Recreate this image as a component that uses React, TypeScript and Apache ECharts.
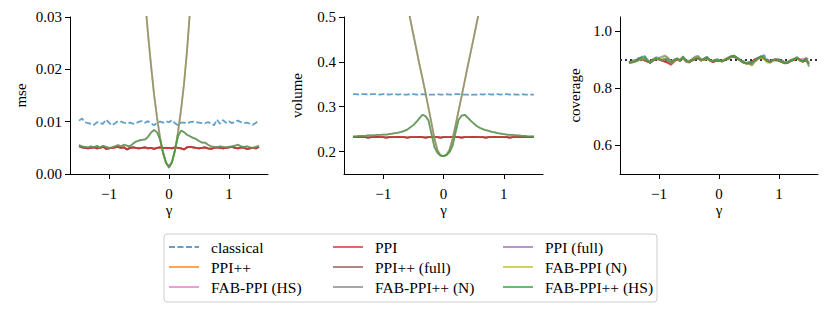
import React, { useEffect, useRef } from "react";
import * as echarts from "echarts";

const gamma = [
  -1.5, -1.45, -1.4, -1.35, -1.3, -1.25, -1.2, -1.15, -1.1, -1.05,
  -1.0, -0.95, -0.9, -0.85, -0.8, -0.75, -0.7, -0.65, -0.6, -0.55,
  -0.5, -0.45, -0.4, -0.35, -0.3, -0.25, -0.2, -0.15, -0.1, -0.05,
  0, 0.05, 0.1, 0.15, 0.2, 0.25, 0.3, 0.35, 0.4, 0.45,
  0.5, 0.55, 0.6, 0.65, 0.7, 0.75, 0.8, 0.85, 0.9, 0.95,
  1.0, 1.05, 1.1, 1.15, 1.2, 1.25, 1.3, 1.35, 1.4, 1.45,
  1.5,
];

const xTicks = [-1, 0, 1];
const mseTicks = [0, 0.01, 0.02, 0.03];
const volTicks = [0.2, 0.3, 0.4, 0.5];
const covTicks = [0.6, 0.8, 1.0];

// ---- mse ----
const mseClassical = [
  0.0102, 0.0106, 0.0099, 0.0097, 0.0096, 0.0094, 0.0099, 0.0097, 0.0096, 0.0104,
  0.0098, 0.0093, 0.0097, 0.0101, 0.0100, 0.0098, 0.0097, 0.0098, 0.0096, 0.0097,
  0.0100, 0.0101, 0.0098, 0.0101, 0.0097, 0.0093, 0.0098, 0.0100, 0.0098, 0.0101,
  0.0099, 0.0103, 0.0097, 0.0093, 0.0098, 0.0098, 0.0097, 0.0099, 0.0100, 0.0099,
  0.0098, 0.0097, 0.0097, 0.0099, 0.0097, 0.0093, 0.0104, 0.0096, 0.0103, 0.0098,
  0.0101, 0.0097, 0.0100, 0.0102, 0.0099, 0.0097, 0.0098, 0.0096, 0.0094, 0.0098,
  0.0103,
];
const msePPI = [
  0.0053, 0.0051, 0.0050, 0.0049, 0.0050, 0.0051, 0.0049, 0.0050, 0.0052, 0.0048,
  0.0049, 0.0050, 0.0051, 0.0052, 0.0050, 0.0051, 0.0047, 0.0050, 0.0051, 0.0050,
  0.0049, 0.0050, 0.0051, 0.0049, 0.0050, 0.0048, 0.0050, 0.0051, 0.0050, 0.0050,
  0.0050, 0.0049, 0.0051, 0.0050, 0.0049, 0.0047, 0.0051, 0.0052, 0.0051, 0.0050,
  0.0049, 0.0050, 0.0051, 0.0049, 0.0048, 0.0050, 0.0051, 0.0050, 0.0049, 0.0050,
  0.0051, 0.0052, 0.0050, 0.0049, 0.0051, 0.0050, 0.0048, 0.0049, 0.0050, 0.0049,
  0.0052,
];
const mseHS = [
  0.0055, 0.0053, 0.0052, 0.0051, 0.0053, 0.0051, 0.0054, 0.0050, 0.0054, 0.0052,
  0.0050, 0.0051, 0.0053, 0.0055, 0.0053, 0.0056, 0.0054, 0.0053, 0.0058, 0.0062,
  0.0064, 0.0065, 0.0066, 0.0071, 0.0079, 0.0084, 0.0080, 0.0066, 0.0042, 0.0022,
  0.0012, 0.0023, 0.0046, 0.0072, 0.0083, 0.0080, 0.0075, 0.0072, 0.0069, 0.0067,
  0.0063, 0.0060, 0.0060, 0.0056, 0.0053, 0.0052, 0.0051, 0.0053, 0.0052, 0.0051,
  0.0052, 0.0053, 0.0054, 0.0056, 0.0053, 0.0052, 0.0053, 0.0051, 0.0050, 0.0052,
  0.0054,
];
const mseN = [
  0.4380, 0.4090, 0.3810, 0.3540, 0.3280, 0.3030, 0.2790, 0.2560, 0.2340, 0.2130,
  0.1930, 0.1740, 0.1560, 0.1390, 0.1230, 0.1080, 0.0940, 0.0810, 0.0690, 0.0580,
  0.0480, 0.0400, 0.0335, 0.0268, 0.0208, 0.0153, 0.0108, 0.0070, 0.0040, 0.0021,
  0.0015, 0.0023, 0.0045, 0.0080, 0.0122, 0.0172, 0.0235, 0.0312, 0.0395, 0.0485,
  0.0580, 0.0685, 0.0795, 0.0915, 0.1045, 0.1185, 0.1335, 0.1495, 0.1665, 0.1845,
  0.2035, 0.2235, 0.2445, 0.2665, 0.2895, 0.3135, 0.3385, 0.3645, 0.3915, 0.4195,
  0.4485,
];

// ---- volume ----
const volClassical = [
  0.328, 0.328, 0.327, 0.328, 0.328, 0.327, 0.328, 0.328, 0.328, 0.327,
  0.328, 0.328, 0.327, 0.328, 0.328, 0.327, 0.328, 0.327, 0.327, 0.328,
  0.328, 0.327, 0.327, 0.328, 0.327, 0.327, 0.327, 0.327, 0.328, 0.327,
  0.327, 0.328, 0.327, 0.327, 0.328, 0.328, 0.327, 0.327, 0.327, 0.326,
  0.327, 0.327, 0.328, 0.327, 0.328, 0.328, 0.327, 0.328, 0.328, 0.327,
  0.328, 0.328, 0.327, 0.328, 0.327, 0.327, 0.328, 0.327, 0.327, 0.327,
  0.327,
];
const volPPI = [
  0.232, 0.232, 0.233, 0.232, 0.232, 0.231, 0.232, 0.232, 0.233, 0.232,
  0.232, 0.231, 0.232, 0.232, 0.232, 0.233, 0.232, 0.232, 0.231, 0.232,
  0.232, 0.232, 0.233, 0.232, 0.231, 0.232, 0.232, 0.232, 0.232, 0.231,
  0.232, 0.232, 0.232, 0.233, 0.232, 0.232, 0.231, 0.232, 0.232, 0.232,
  0.233, 0.232, 0.232, 0.232, 0.231, 0.232, 0.232, 0.233, 0.232, 0.232,
  0.232, 0.232, 0.231, 0.232, 0.232, 0.232, 0.233, 0.232, 0.232, 0.232,
  0.232,
];
const volHS = [
  0.234, 0.234, 0.235, 0.235, 0.235, 0.236, 0.236, 0.236, 0.237, 0.237,
  0.238, 0.238, 0.239, 0.240, 0.241, 0.242, 0.244, 0.246, 0.249, 0.254,
  0.259, 0.266, 0.274, 0.282, 0.279, 0.270, 0.240, 0.210, 0.197, 0.191,
  0.190, 0.192, 0.199, 0.213, 0.243, 0.271, 0.280, 0.282, 0.276, 0.269,
  0.263, 0.257, 0.253, 0.250, 0.248, 0.246, 0.244, 0.243, 0.241, 0.240,
  0.239, 0.238, 0.237, 0.237, 0.236, 0.236, 0.235, 0.235, 0.234, 0.234,
  0.234,
];
const volN = [
  1.121, 1.088, 1.055, 1.022, 0.989, 0.956, 0.923, 0.890, 0.857, 0.824,
  0.791, 0.758, 0.725, 0.692, 0.659, 0.626, 0.593, 0.560, 0.527, 0.494,
  0.461, 0.428, 0.395, 0.364, 0.332, 0.298, 0.264, 0.229, 0.203, 0.192,
  0.190, 0.193, 0.204, 0.228, 0.259, 0.291, 0.323, 0.356, 0.389, 0.421,
  0.453, 0.486, 0.519, 0.552, 0.585, 0.618, 0.651, 0.684, 0.717, 0.750,
  0.783, 0.816, 0.849, 0.882, 0.915, 0.948, 0.981, 1.014, 1.047, 1.080,
  1.113,
];

// ---- coverage ----
const covClassical = [
  0.893, 0.897, 0.900, 0.905, 0.909, 0.916, 0.903, 0.888, 0.897, 0.904,
  0.901, 0.896, 0.899, 0.905, 0.893, 0.900, 0.907, 0.897, 0.910, 0.896,
  0.893, 0.900, 0.904, 0.908, 0.898, 0.905, 0.911, 0.897, 0.894, 0.905,
  0.899, 0.893, 0.898, 0.902, 0.906, 0.913, 0.907, 0.901, 0.895, 0.893,
  0.889, 0.884, 0.898, 0.905, 0.911, 0.917, 0.903, 0.895, 0.900, 0.897,
  0.903, 0.899, 0.889, 0.893, 0.898, 0.902, 0.909, 0.896, 0.899, 0.906,
  0.902,
];
const covPPI = [
  0.889, 0.891, 0.895, 0.899, 0.903, 0.901, 0.896, 0.892, 0.899, 0.902,
  0.904, 0.898, 0.893, 0.889, 0.882, 0.893, 0.901, 0.898, 0.905, 0.894,
  0.891, 0.897, 0.901, 0.905, 0.899, 0.902, 0.906, 0.899, 0.893, 0.896,
  0.897, 0.895, 0.899, 0.904, 0.909, 0.911, 0.906, 0.900, 0.893, 0.889,
  0.891, 0.895, 0.901, 0.905, 0.909, 0.903, 0.897, 0.892, 0.899, 0.901,
  0.897, 0.893, 0.887, 0.891, 0.896, 0.899, 0.905, 0.899, 0.894, 0.898,
  0.885,
];
const covPPIpp = [
  0.891, 0.893, 0.897, 0.902, 0.905, 0.899, 0.894, 0.890, 0.897, 0.903,
  0.902, 0.897, 0.895, 0.891, 0.886, 0.895, 0.903, 0.896, 0.907, 0.895,
  0.892, 0.898, 0.903, 0.906, 0.897, 0.903, 0.908, 0.898, 0.892, 0.897,
  0.898, 0.894, 0.900, 0.905, 0.910, 0.912, 0.905, 0.899, 0.892, 0.887,
  0.890, 0.893, 0.902, 0.906, 0.910, 0.904, 0.896, 0.893, 0.900, 0.900,
  0.896, 0.892, 0.888, 0.890, 0.897, 0.900, 0.906, 0.898, 0.893, 0.899,
  0.887,
];
const covFabN = [
  0.888, 0.894, 0.898, 0.896, 0.901, 0.904, 0.899, 0.893, 0.900, 0.906,
  0.905, 0.903, 0.912, 0.908, 0.894, 0.897, 0.902, 0.899, 0.908, 0.897,
  0.894, 0.901, 0.909, 0.912, 0.900, 0.898, 0.903, 0.895, 0.896, 0.901,
  0.897, 0.896, 0.903, 0.907, 0.912, 0.914, 0.906, 0.898, 0.890, 0.887,
  0.885, 0.879, 0.893, 0.902, 0.906, 0.903, 0.890, 0.889, 0.897, 0.902,
  0.899, 0.895, 0.890, 0.893, 0.899, 0.903, 0.907, 0.897, 0.896, 0.902,
  0.889,
];
const covFabppN = [
  0.890, 0.895, 0.893, 0.898, 0.906, 0.902, 0.897, 0.895, 0.903, 0.909,
  0.907, 0.911, 0.915, 0.906, 0.896, 0.899, 0.904, 0.901, 0.912, 0.899,
  0.896, 0.903, 0.911, 0.914, 0.903, 0.900, 0.905, 0.896, 0.898, 0.902,
  0.896, 0.897, 0.902, 0.908, 0.913, 0.915, 0.904, 0.897, 0.891, 0.889,
  0.886, 0.883, 0.895, 0.903, 0.909, 0.911, 0.898, 0.891, 0.896, 0.903,
  0.900, 0.896, 0.891, 0.894, 0.900, 0.904, 0.908, 0.899, 0.897, 0.903,
  0.891,
];
const covFabHS = [
  0.887, 0.892, 0.896, 0.900, 0.904, 0.907, 0.901, 0.890, 0.898, 0.903,
  0.900, 0.899, 0.901, 0.897, 0.887, 0.896, 0.905, 0.897, 0.909, 0.893,
  0.890, 0.899, 0.905, 0.909, 0.898, 0.901, 0.907, 0.898, 0.894, 0.899,
  0.899, 0.896, 0.900, 0.906, 0.911, 0.913, 0.907, 0.899, 0.892, 0.888,
  0.892, 0.890, 0.899, 0.906, 0.912, 0.908, 0.897, 0.894, 0.901, 0.903,
  0.898, 0.894, 0.889, 0.892, 0.898, 0.901, 0.907, 0.902, 0.904, 0.901,
  0.884,
];
const covFabppHS = [
  0.889, 0.890, 0.894, 0.901, 0.907, 0.912, 0.900, 0.889, 0.899, 0.905,
  0.902, 0.900, 0.903, 0.899, 0.889, 0.898, 0.906, 0.896, 0.911, 0.895,
  0.892, 0.898, 0.904, 0.907, 0.899, 0.903, 0.909, 0.900, 0.895, 0.898,
  0.898, 0.895, 0.899, 0.905, 0.912, 0.915, 0.908, 0.900, 0.891, 0.887,
  0.890, 0.889, 0.900, 0.907, 0.913, 0.907, 0.896, 0.893, 0.900, 0.902,
  0.897, 0.893, 0.888, 0.891, 0.897, 0.902, 0.909, 0.900, 0.895, 0.905,
  0.876,
];
const nominalCoverage = 0.9;

const FONT = "Liberation Serif";

type Method = { name: string; color: string; dashed?: boolean };
const methods: Method[] = [
  { name: "classical", color: "rgba(31,119,180,0.7)", dashed: true },
  { name: "PPI++", color: "rgba(255,127,14,0.7)" },
  { name: "PPI (full)", color: "rgba(148,103,189,0.7)" },
  { name: "PPI++ (full)", color: "rgba(140,86,75,0.7)" },
  { name: "PPI", color: "rgba(214,39,40,0.7)" },
  { name: "FAB-PPI (HS)", color: "rgba(227,119,194,0.7)" },
  { name: "FAB-PPI (N)", color: "rgba(188,189,34,0.7)" },
  { name: "FAB-PPI++ (N)", color: "rgba(127,127,127,0.7)" },
  { name: "FAB-PPI++ (HS)", color: "rgba(44,160,44,0.7)" },
];

const panels: Record<string, number[]>[] = [
  {
    classical: mseClassical, "PPI++": msePPI, "PPI (full)": msePPI, "PPI++ (full)": msePPI, PPI: msePPI,
    "FAB-PPI (HS)": mseHS, "FAB-PPI (N)": mseN, "FAB-PPI++ (N)": mseN, "FAB-PPI++ (HS)": mseHS,
  },
  {
    classical: volClassical, "PPI++": volPPI, "PPI (full)": volPPI, "PPI++ (full)": volPPI, PPI: volPPI,
    "FAB-PPI (HS)": volHS, "FAB-PPI (N)": volN, "FAB-PPI++ (N)": volN, "FAB-PPI++ (HS)": volHS,
  },
  {
    classical: covClassical, "PPI++": covPPIpp, "PPI (full)": covPPIpp, "PPI++ (full)": covPPIpp, PPI: covPPI,
    "FAB-PPI (HS)": covFabHS, "FAB-PPI (N)": covFabN, "FAB-PPI++ (N)": covFabppN, "FAB-PPI++ (HS)": covFabppHS,
  },
];

const legendCols = [
  ["classical", "PPI++", "FAB-PPI (HS)"],
  ["PPI", "PPI++ (full)", "FAB-PPI++ (N)"],
  ["PPI (full)", "FAB-PPI (N)", "FAB-PPI++ (HS)"],
];

export default function App() {
  const ref = useRef<HTMLDivElement>(null);
  useEffect(() => {
    document.body.style.margin = "0";
    if (!ref.current) return;
    const chart = echarts.init(ref.current, undefined, { renderer: "svg" });

    const grids = [
      { left: 70, top: 17, width: 198, height: 157 },
      { left: 344, top: 17, width: 199, height: 157 },
      { left: 620, top: 17, width: 198, height: 157 },
    ];
    const axisLine = { show: true, onZero: false, lineStyle: { color: "#000", width: 1 } };
    const tickStyle = { color: "#000", width: 1 };
    const labelStyle = { fontFamily: FONT, fontSize: 15, color: "#000" };
    const nameStyle = { fontFamily: FONT, fontSize: 15, color: "#000" };
    const minus = (s: string) => s.replace("-", "\u2212");

    const xAxis = grids.map((_, i) => ({
      type: "value",
      gridIndex: i,
      min: -1.65,
      max: 1.65,
      axisLine,
      splitLine: { show: false },
      axisTick: { show: true, customValues: xTicks, length: 5, lineStyle: tickStyle },
      axisLabel: {
        ...labelStyle,
        customValues: xTicks,
        margin: 12,
        formatter: (v: number) => minus(String(v)),
      },
      name: "\u03b3",
      nameLocation: "middle",
      nameGap: 28,
      nameTextStyle: nameStyle,
    }));

    const yDefs = [
      { min: 0, max: 0.03, ticks: mseTicks, dec: 2, name: "mse", gap: 42 },
      { min: 0.15, max: 0.5, ticks: volTicks, dec: 1, name: "volume", gap: 40 },
      { min: 0.5, max: 1.05, ticks: covTicks, dec: 1, name: "coverage", gap: 38 },
    ];
    const yAxis = yDefs.map((d, i) => ({
      type: "value",
      gridIndex: i,
      min: d.min,
      max: d.max,
      axisLine,
      splitLine: { show: false },
      axisTick: { show: true, customValues: d.ticks, length: 5, lineStyle: tickStyle },
      axisLabel: {
        ...labelStyle,
        customValues: d.ticks,
        margin: 8,
        formatter: (v: number) => v.toFixed(d.dec),
      },
      name: d.name,
      nameLocation: "middle",
      nameGap: d.gap,
      nameTextStyle: nameStyle,
    }));

    const series: any[] = [];
    panels.forEach((panel, p) => {
      methods.forEach((m, k) => {
        const vals = panel[m.name];
        const s: any = {
          type: "line",
          name: m.name,
          xAxisIndex: p,
          yAxisIndex: p,
          data: gamma.map((g, i) => [g, vals[i]]),
          symbol: "none",
          showSymbol: false,
          clip: true,
          color: m.color,
          lineStyle: { color: m.color, width: 1.8, type: m.dashed ? [6, 2.5] : "solid" },
          z: 2 + k,
        };
        if (p === 2 && k === 0) {
          s.markLine = {
            silent: true,
            symbol: "none",
            label: { show: false },
            lineStyle: { color: "#333", type: [2, 3], width: 2 },
            data: [{ yAxis: nominalCoverage }],
          };
        }
        series.push(s);
      });
    });

    const legendX = [168, 332, 502];
    const legend = legendCols.map((col, c) => ({
      data: col,
      orient: "vertical",
      left: legendX[c],
      top: 237,
      padding: 0,
      itemWidth: 30,
      itemHeight: 10,
      itemGap: 0,
      selectedMode: false,
      itemStyle: { color: "rgba(0,0,0,0)", borderColor: "rgba(0,0,0,0)", borderWidth: 0 },
      lineStyle: { width: 2 },
      textStyle: { fontFamily: FONT, fontSize: 15.5, color: "#000", lineHeight: 20, padding: [0, 0, 0, 7] },
    }));

    chart.setOption({
      animation: false,
      backgroundColor: "#fff",
      textStyle: { fontFamily: FONT },
      grid: grids,
      xAxis,
      yAxis,
      series,
      legend,
      graphic: [
        {
          type: "rect",
          z: 0,
          shape: { x: 164, y: 234, width: 493, height: 68, r: 3 },
          style: { fill: "#fff", stroke: "#cccccc", lineWidth: 1 },
        },
      ],
    });
    return () => chart.dispose();
  }, []);
  return <div ref={ref} style={{ width: 830, height: 314 }} />;
}
